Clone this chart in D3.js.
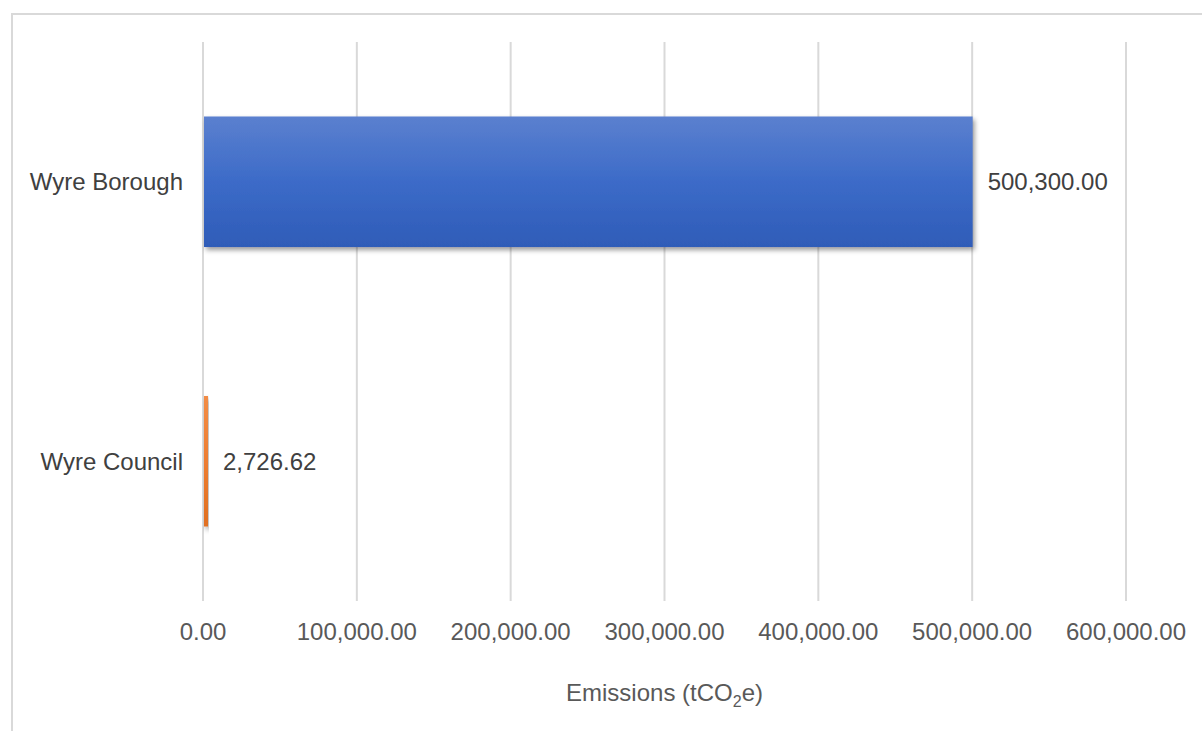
<!DOCTYPE html>
<html>
<head>
<meta charset="utf-8">
<script src="https://cdn.jsdelivr.net/npm/d3@7"></script>
<style>
  body { margin: 0; background: #fff; }
  text { font-family: "Liberation Sans", Arial, sans-serif; }
</style>
</head>
<body>
<svg id="chart" width="1202" height="731"></svg>
<script>
const categories = ["Wyre Borough", "Wyre Council"];
const values = [500300.00, 2726.62];
const tickValues = [0, 100000, 200000, 300000, 400000, 500000, 600000];
const barColors = [
    ["#5b80cf", "#3c6bc8", "#2f5cb8"],
    ["#f28c45", "#ed7d31", "#e06f20"]
];

const svg = d3.select("#chart"),
    width = +svg.attr("width"),
    height = +svg.attr("height");

const plot = { left: 203, right: 1126, top: 42, bottom: 601 };

const fmt = d3.format(",.2f");

const x = d3.scaleLinear().domain([0, 600000]).range([plot.left, plot.right]);
const y = d3.scaleBand().domain(categories).range([plot.top, plot.bottom])
    .paddingInner(0.533).paddingOuter(0.2665);

const defs = svg.append("defs");
barColors.forEach((c, i) => {
    const g = defs.append("linearGradient").attr("id", "grad" + i)
        .attr("x1", 0).attr("y1", 0).attr("x2", 0).attr("y2", 1);
    g.append("stop").attr("offset", "0%").attr("stop-color", c[0]);
    g.append("stop").attr("offset", "50%").attr("stop-color", c[1]);
    g.append("stop").attr("offset", "100%").attr("stop-color", c[2]);
});
const shadow = defs.append("filter").attr("id", "shadow")
    .attr("x", "-5%").attr("y", "-20%").attr("width", "120%").attr("height", "150%");
shadow.append("feDropShadow").attr("dx", 2).attr("dy", 3)
    .attr("stdDeviation", 2.5).attr("flood-color", "#000").attr("flood-opacity", 0.4);

// outer frame (extends past right/bottom edge)
svg.append("rect")
    .attr("x", 12).attr("y", 14)
    .attr("width", width + 20).attr("height", height + 20)
    .attr("fill", "none").attr("stroke", "#d9d9d9").attr("stroke-width", 2);

// vertical gridlines
svg.append("g").selectAll("line")
    .data(tickValues)
    .join("line")
    .attr("x1", d => x(d)).attr("x2", d => x(d))
    .attr("y1", plot.top).attr("y2", plot.bottom)
    .attr("stroke", "#d9d9d9").attr("stroke-width", 2);

// tick labels
svg.append("g").selectAll("text")
    .data(tickValues)
    .join("text")
    .attr("x", d => x(d)).attr("y", 640)
    .attr("text-anchor", "middle")
    .attr("fill", "#595959")
    .style("font-size", "24px")
    .text(d => fmt(d));

// bars
svg.append("g").selectAll("rect")
    .data(values)
    .join("rect")
    .attr("x", x(0) + 1)
    .attr("y", (d, i) => y(categories[i]))
    .attr("width", d => Math.max(x(d) - x(0) - 1, 4))
    .attr("height", y.bandwidth())
    .attr("fill", (d, i) => `url(#grad${i})`)
    .attr("filter", "url(#shadow)");

// data labels
svg.append("g").selectAll("text")
    .data(values)
    .join("text")
    .attr("x", d => Math.max(x(d), x(0) + 5) + 15)
    .attr("y", (d, i) => y(categories[i]) + y.bandwidth() / 2)
    .attr("dy", "0.36em")
    .attr("fill", "#404040")
    .style("font-size", "24px")
    .text(d => fmt(d));

// category labels
svg.append("g").selectAll("text")
    .data(categories)
    .join("text")
    .attr("x", plot.left - 20)
    .attr("y", d => y(d) + y.bandwidth() / 2)
    .attr("dy", "0.36em")
    .attr("text-anchor", "end")
    .attr("fill", "#404040")
    .style("font-size", "24px")
    .text(d => d);

// axis title
const title = svg.append("text")
    .attr("x", (plot.left + plot.right) / 2)
    .attr("y", 701)
    .attr("text-anchor", "middle")
    .attr("fill", "#595959")
    .style("font-size", "24px");
title.append("tspan").text("Emissions (tCO");
title.append("tspan").attr("dy", 6).style("font-size", "16px").text("2");
title.append("tspan").attr("dy", -6).text("e)");
</script>
</body>
</html>
